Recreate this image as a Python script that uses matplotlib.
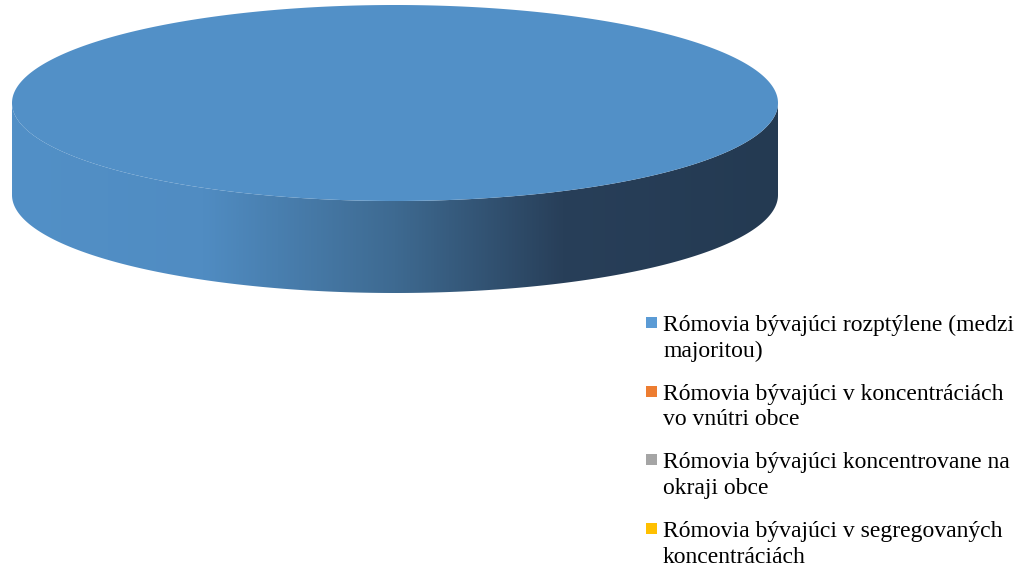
import numpy as np
import matplotlib
matplotlib.use("Agg")
import matplotlib.pyplot as plt
from matplotlib.patches import Polygon, Rectangle
from matplotlib.colors import LinearSegmentedColormap

# data
labels = [
    "Rómovia bývajúci rozptýlene (medzi\nmajoritou)",
    "Rómovia bývajúci v koncentráciách\nvo vnútri obce",
    "Rómovia bývajúci koncentrovane na\nokraji obce",
    "Rómovia bývajúci v segregovaných\nkoncentráciách",
]
values = [100, 0, 0, 0]
colors = ["#5B9BD5", "#ED7D31", "#A5A5A5", "#FFC000"]
top_colors = ["#5290C7", "#E07028", "#9A9A9A", "#F0B400"]

plt.rcParams["font.family"] = ["Liberation Serif", "DejaVu Serif"]

fig = plt.figure(figsize=(10.28, 5.67), dpi=100)
ax = fig.add_axes([0, 0, 1, 1])
ax.set_xlim(0, 1028)
ax.set_ylim(567, 0)
ax.axis("off")

# pie geometry (pixel space)
cx, cy, a, b, depth = 395, 103, 383, 98, 92

side_cmap = LinearSegmentedColormap.from_list(
    "side",
    [(0.0, (82/255, 144/255, 199/255)),
     (0.25, (80/255, 140/255, 194/255)),
     (0.5, (62/255, 106/255, 145/255)),
     (0.72, (40/255, 63/255, 89/255)),
     (1.0, (36/255, 58/255, 82/255))])

total = float(sum(values))
start = 0.0
for v, c in zip(values, top_colors):
    if v <= 0:
        continue
    t0 = np.deg2rad(start)
    t1 = np.deg2rad(start + 360.0 * v / total)
    start += 360.0 * v / total
    # side (front half only, y grows downward)
    s0, s1 = max(t0, 0.0), min(t1, np.pi)
    if s1 > s0:
        t = np.linspace(s0, s1, 300)
        xs = cx + a * np.cos(t)
        ys = cy + b * np.sin(t)
        pts = np.vstack([np.column_stack([xs, ys]),
                         np.column_stack([xs[::-1], ys[::-1] + depth])])
        side = Polygon(pts, closed=True, facecolor="none", edgecolor="none")
        ax.add_patch(side)
        grad = np.linspace(0, 1, 512).reshape(1, -1)
        im = ax.imshow(grad, cmap=side_cmap, aspect="auto",
                       extent=(cx - a, cx + a, cy + b + depth, cy),
                       interpolation="bilinear")
        im.set_clip_path(side)
    # top face
    t = np.linspace(t0, t1, 600)
    xs = cx + a * np.cos(t)
    ys = cy + b * np.sin(t)
    if v < total:
        xs = np.concatenate([[cx], xs])
        ys = np.concatenate([[cy], ys])
    ax.add_patch(Polygon(np.column_stack([xs, ys]), closed=True,
                         facecolor=c, edgecolor="none"))

# legend, square aligned with the first line of each entry
base0, entry_step, line_step = 331, 68.7, 25.5
for i, (lab, c) in enumerate(zip(labels, colors)):
    y = base0 + i * entry_step
    ax.add_patch(Rectangle((646, y - 14), 11, 11, facecolor=c, edgecolor="none"))
    for j, line in enumerate(lab.split("\n")):
        ax.text(663, y + j * line_step, line, fontsize=17, color="black",
                ha="left", va="baseline")

fig.savefig("out.png", dpi=100)
